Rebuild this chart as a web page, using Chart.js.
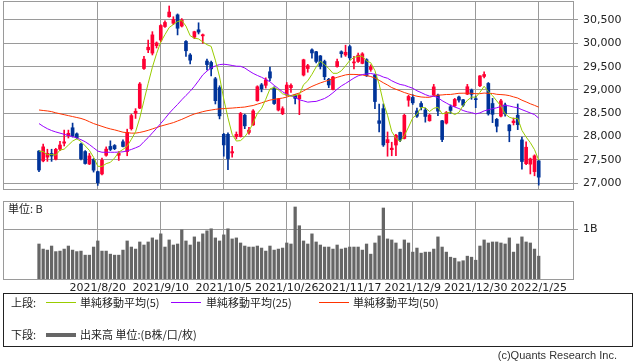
<!DOCTYPE html>
<html>
<head>
<meta charset="utf-8">
<script src="https://cdn.jsdelivr.net/npm/chart.js@4.4.0/dist/chart.umd.min.js"></script>
<style>
  body { margin: 0; background: #fff; }
  #page { position: relative; width: 638px; height: 362px; overflow: hidden; font-family: "Noto Sans CJK JP", sans-serif; color: #222; }
  #priceChart { position: absolute; left: 0; top: 0; }
  #volChart { position: absolute; left: 0; top: 195px; }
  .txt { position: absolute; font-size: 11px; line-height: 13px; white-space: nowrap; }
  #legend { position: absolute; left: 3px; top: 293px; width: 628px; height: 52px; border: 1px solid #222; }
  .swatch { position: absolute; width: 30px; }
</style>
</head>
<body>
<div id="page">
  <canvas id="priceChart" width="638" height="191"></canvas>
  <canvas id="volChart" width="638" height="100"></canvas>
  <div class="txt" style="left:8px; top:202px;">単位: B</div>
  <div id="legend">
    <div class="txt" style="left:7px; top:2px;">上段:</div>
    <div class="swatch" style="left:42px; top:8px; border-top:1px solid #99cc00;"></div>
    <div class="txt" style="left:76px; top:2px;">単純移動平均(5)</div>
    <div class="swatch" style="left:167px; top:8px; border-top:1px solid #9900ff;"></div>
    <div class="txt" style="left:202px; top:2px;">単純移動平均(25)</div>
    <div class="swatch" style="left:315px; top:8px; border-top:1px solid #ff3300;"></div>
    <div class="txt" style="left:349px; top:2px;">単純移動平均(50)</div>
    <div class="txt" style="left:7px; top:34px;">下段:</div>
    <div class="swatch" style="left:42px; top:39px; border-top:4px solid #666;"></div>
    <div class="txt" style="left:76px; top:34px;">出来高 単位:(B株/口/枚)</div>
  </div>
  <div class="txt" style="right:21px; top:349px; font-family:'Liberation Sans', sans-serif; color:#333;">(c)Quants Research Inc.</div>
</div>
<script>
// trading days shown on the chart
const dates = [
  '2021/7/30',
  '2021/8/2', '2021/8/3', '2021/8/4', '2021/8/5', '2021/8/6', '2021/8/10', '2021/8/11', '2021/8/12', '2021/8/13',
  '2021/8/16', '2021/8/17', '2021/8/18', '2021/8/19', '2021/8/20', '2021/8/23', '2021/8/24', '2021/8/25', '2021/8/26',
  '2021/8/27', '2021/8/30', '2021/8/31',
  '2021/9/1', '2021/9/2', '2021/9/3', '2021/9/6', '2021/9/7', '2021/9/8', '2021/9/9', '2021/9/10', '2021/9/13',
  '2021/9/14', '2021/9/15', '2021/9/16', '2021/9/17', '2021/9/21', '2021/9/22', '2021/9/24', '2021/9/27', '2021/9/28',
  '2021/9/29', '2021/9/30',
  '2021/10/1', '2021/10/4', '2021/10/5', '2021/10/6', '2021/10/7', '2021/10/8', '2021/10/11', '2021/10/12', '2021/10/13',
  '2021/10/14', '2021/10/15', '2021/10/18', '2021/10/19', '2021/10/20', '2021/10/21', '2021/10/22', '2021/10/25',
  '2021/10/26', '2021/10/27', '2021/10/28', '2021/10/29',
  '2021/11/1', '2021/11/2', '2021/11/4', '2021/11/5', '2021/11/8', '2021/11/9', '2021/11/10', '2021/11/11', '2021/11/12',
  '2021/11/15', '2021/11/16', '2021/11/17', '2021/11/18', '2021/11/19', '2021/11/22', '2021/11/24', '2021/11/25',
  '2021/11/26', '2021/11/29', '2021/11/30',
  '2021/12/1', '2021/12/2', '2021/12/3', '2021/12/6', '2021/12/7', '2021/12/8', '2021/12/9', '2021/12/10', '2021/12/13',
  '2021/12/14', '2021/12/15', '2021/12/16', '2021/12/17', '2021/12/20', '2021/12/21', '2021/12/22', '2021/12/23',
  '2021/12/24', '2021/12/27', '2021/12/28', '2021/12/29', '2021/12/30',
  '2022/1/4', '2022/1/5', '2022/1/6', '2022/1/7', '2022/1/11', '2022/1/12', '2022/1/13', '2022/1/14', '2022/1/17',
  '2022/1/18', '2022/1/19', '2022/1/20', '2022/1/21', '2022/1/24', '2022/1/25'
]
const tickDays = ['2021/8/20', '2021/9/10', '2021/10/5', '2021/10/26', '2021/11/17', '2021/12/9', '2021/12/30', '2022/1/25']

const open = [
  27690, 27480, 27560, 27640, 27515, 27730, 27860, 28020, 28190, 28060, 27840, 27680, 27414, 27510, 27250, 27200,
  27600, 27790, 27810, 27600, 27890, 27680, 28170, 28500, 28610, 29460, 29860, 29790, 29950, 30070, 30360, 30570,
  30430, 30610, 30370, 30040, 29750, 30130, 30290, 30160, 29620, 29590, 29240, 29050, 28050, 28050, 27650, 28000,
  28000, 28460, 28090, 28250, 28770, 29110, 29100, 29390, 29040, 28570, 28490, 28890, 29050, 28890, 28810, 29320,
  29460, 29860, 29820, 29730, 29610, 29230, 29010, 29500, 29820, 29750, 29930, 29580, 29610, 29570, 29650, 29440,
  29320, 28340, 28600, 27870, 27720, 27820, 28090, 27960, 28780, 28840, 28550, 28710, 28570, 28340, 28890, 28890,
  28340, 28290, 28640, 28660, 28850, 28790, 28910, 29000, 28800, 29090, 29290, 29140, 28710, 28370, 28440, 28680,
  28250, 28300, 28460, 27930, 27420, 27410, 27250, 27480
]
const high = [
  27700, 27840, 27730, 27730, 27750, 27900, 28140, 28140, 28290, 28080, 27860, 27700, 27640, 27530, 27260, 27540,
  27780, 27910, 27830, 27680, 27930, 28160, 28480, 28600, 29160, 29720, 30070, 30250, 30030, 30400, 30480, 30800,
  30570, 30630, 30530, 30060, 29780, 30260, 30440, 30200, 29660, 29620, 29270, 29090, 28070, 28080, 27790, 28100,
  28520, 28480, 28200, 28580, 29090, 29140, 29260, 29490, 29070, 28820, 28640, 29160, 29130, 28900, 28900, 29660,
  29550, 29880, 29830, 29740, 29640, 29250, 29290, 29660, 29840, 29960, 29960, 29720, 29790, 29800, 29670, 29540,
  29340, 28700, 28700, 28100, 27880, 28050, 28100, 28480, 28890, 28900, 28610, 28750, 28610, 28480, 29120, 28910,
  28350, 28540, 28680, 28820, 28870, 28800, 29120, 29020, 28870, 29310, 29390, 29160, 28820, 28390, 28800, 28720,
  28260, 28400, 28700, 27990, 27890, 27540, 27610, 27490
]
const low = [
  27250, 27460, 27470, 27470, 27500, 27700, 27800, 27970, 27990, 27950, 27500, 27410, 27400, 27240, 26954, 27180,
  27580, 27700, 27720, 27490, 27780, 27590, 28140, 28390, 28600, 29440, 29800, 29750, 29900, 30030, 30340, 30560,
  30400, 30180, 30350, 29720, 29560, 30100, 30200, 30000, 29430, 29300, 28700, 28380, 27580, 27290, 27560, 27950,
  27990, 28170, 28050, 28240, 28760, 28960, 29040, 29200, 28690, 28550, 28470, 28880, 28950, 28700, 28470, 29300,
  29380, 29680, 29580, 29450, 29220, 29050, 29000, 29490, 29700, 29720, 29640, 29450, 29590, 29560, 29290, 29400,
  28600, 28100, 27790, 27580, 27590, 27590, 27890, 27950, 28650, 28690, 28410, 28570, 28310, 28330, 28880, 28450,
  27890, 28270, 28500, 28640, 28740, 28650, 28900, 28800, 28620, 29070, 29260, 28460, 28300, 28100, 28420, 28440,
  27890, 28250, 28150, 27300, 27400, 27200, 27160, 26960
]
const close = [
  27284, 27781, 27642, 27584, 27728, 27820, 27888, 28071, 28015, 27977, 27523, 27424, 27586, 27281, 27013, 27494,
  27732, 27725, 27742, 27641, 27789, 28090, 28451, 28544, 29128, 29660, 29916, 30181, 30008, 30382, 30447, 30670,
  30512, 30323, 30500, 29840, 29639, 30249, 30240, 30184, 29544, 29453, 28771, 28445, 27822, 27529, 27678, 28049,
  28498, 28231, 28140, 28551, 29069, 29025, 29216, 29256, 28709, 28805, 28600, 29106, 29098, 28820, 28893, 29647,
  29521, 29794, 29612, 29507, 29285, 29107, 29278, 29610, 29777, 29808, 29688, 29599, 29746, 29774, 29303, 29499,
  28752, 28284, 27822, 27936, 27753, 28030, 27927, 28456, 28861, 28725, 28438, 28640, 28433, 28460, 29066, 28546,
  27938, 28518, 28562, 28798, 28783, 28676, 29069, 28907, 28792, 29302, 29332, 28488, 28479, 28222, 28766, 28489,
  28124, 28334, 28257, 27467, 27773, 27522, 27588, 27131
]
// volume, billions of shares
const volume = [
  0.71, 0.61, 0.59, 0.67, 0.56, 0.57, 0.61, 0.67, 0.59, 0.56, 0.57, 0.49, 0.49, 0.65, 0.77, 0.57,
  0.57, 0.51, 0.49, 0.49, 0.59, 0.77, 0.65, 0.61, 0.75, 0.69, 0.75, 0.83, 0.79, 0.91, 0.65, 0.79,
  0.69, 0.71, 0.99, 0.77, 0.69, 0.85, 0.75, 0.91, 0.97, 1.01, 0.83, 0.77, 0.89, 1.01, 0.81, 0.83,
  0.73, 0.67, 0.65, 0.65, 0.67, 0.63, 0.57, 0.67, 0.59, 0.61, 0.63, 0.73, 0.71, 1.44, 1.07, 0.77,
  0.71, 0.91, 0.75, 0.69, 0.65, 0.65, 0.61, 0.69, 0.61, 0.63, 0.65, 0.65, 0.65, 0.59, 0.71, 0.51,
  0.73, 0.87, 1.42, 0.81, 0.79, 0.73, 0.61, 0.79, 0.73, 0.55, 0.63, 0.53, 0.55, 0.55, 0.61, 0.85,
  0.65, 0.55, 0.45, 0.43, 0.36, 0.38, 0.47, 0.45, 0.39, 0.67, 0.79, 0.73, 0.75, 0.75, 0.73, 0.71,
  0.83, 0.55, 0.71, 0.85, 0.75, 0.73, 0.61, 0.47
]
const ma5 = [
  27690, 27680, 27614, 27615, 27604, 27711, 27732, 27818, 27904, 27954, 27895, 27802, 27705, 27558, 27365, 27360,
  27421, 27449, 27541, 27667, 27726, 27797, 27943, 28103, 28400, 28775, 29140, 29486, 29779, 30029, 30187, 30338,
  30404, 30467, 30490, 30369, 30163, 30110, 30094, 30030, 29971, 29934, 29638, 29279, 28807, 28404, 28049, 27905,
  27915, 27997, 28119, 28294, 28498, 28603, 28800, 29023, 29055, 29002, 28917, 28895, 28864, 28886, 28903, 29113,
  29196, 29335, 29493, 29616, 29544, 29461, 29358, 29357, 29411, 29516, 29632, 29696, 29724, 29723, 29622, 29584,
  29415, 29122, 28732, 28459, 28109, 27965, 27894, 28020, 28205, 28400, 28481, 28624, 28619, 28539, 28607, 28629,
  28489, 28506, 28526, 28472, 28520, 28667, 28778, 28847, 28845, 28949, 29080, 28964, 28879, 28765, 28657, 28489,
  28416, 28387, 28394, 28134, 27991, 27871, 27721, 27496
]
const ma25 = [
  28280, 28220, 28170, 28130, 28100, 28075, 28050, 28025, 28000, 27970, 27935, 27890, 27830, 27760, 27690, 27665,
  27665, 27665, 27665, 27668, 27675, 27695, 27725, 27760, 27798, 27893, 27979, 28080, 28177, 28283, 28388, 28500,
  28597, 28690, 28790, 28883, 28972, 29078, 29197, 29323, 29405, 29474, 29516, 29544, 29552, 29541, 29525, 29509,
  29507, 29471, 29410, 29355, 29311, 29272, 29225, 29177, 29099, 29031, 28962, 28906, 28876, 28844, 28789, 28766,
  28739, 28749, 28755, 28785, 28818, 28870, 28940, 29017, 29086, 29139, 29197, 29255, 29303, 29331, 29342, 29354,
  29334, 29317, 29277, 29251, 29197, 29154, 29118, 29101, 29069, 29037, 28983, 28944, 28901, 28868, 28867, 28837,
  28770, 28720, 28670, 28635, 28602, 28559, 28531, 28515, 28487, 28509, 28551, 28577, 28599, 28618, 28647, 28670,
  28657, 28635, 28617, 28578, 28543, 28507, 28472, 28395
]
const ma50 = [
  28571, 28560, 28550, 28536, 28510, 28490, 28470, 28450, 28430, 28410, 28390, 28360, 28320, 28280, 28250, 28220,
  28190, 28165, 28145, 28120, 28095, 28085, 28075, 28075, 28090, 28110, 28135, 28165, 28195, 28225, 28250, 28275,
  28300, 28335, 28370, 28410, 28450, 28485, 28510, 28535, 28555, 28570, 28585, 28595, 28600, 28607, 28612, 28620,
  28627, 28634, 28652, 28667, 28696, 28724, 28754, 28783, 28799, 28814, 28826, 28848, 28880, 28908, 28934, 28981,
  29031, 29077, 29115, 29151, 29181, 29211, 29240, 29271, 29297, 29323, 29334, 29333, 29329, 29321, 29307, 29289,
  29255, 29208, 29154, 29106, 29051, 29015, 28981, 28945, 28917, 28888, 28866, 28850, 28843, 28843, 28868, 28889,
  28894, 28903, 28904, 28916, 28929, 28931, 28931, 28929, 28920, 28921, 28934, 28927, 28925, 28907, 28901, 28894,
  28879, 28852, 28827, 28781, 28744, 28704, 28670, 28631
]
const priceTicks = [27000, 27500, 28000, 28500, 29000, 29500, 30000, 30500]
const volTicks = [1]

const RED = '#ff0033'
const BLUE = '#003399'
const GRID = '#9a9a9a'
const tickIdx = tickDays.map(d => dates.indexOf(d))
const candleColor = (ctx) => close[ctx.dataIndex] >= open[ctx.dataIndex] ? RED : BLUE

// thin gray frame round the plot area
const frame = {
  id: 'frame',
  afterDraw(chart) {
    const {ctx, chartArea: a} = chart
    ctx.save()
    ctx.strokeStyle = GRID
    ctx.lineWidth = 1
    ctx.strokeRect(a.left + 0.5, a.top + 0.5, a.right - a.left - 1, a.bottom - a.top - 1)
    ctx.restore()
  }
}

function xAxis(showLabels) {
  return {
    type: 'linear',
    min: -8.57,
    max: 127.4,
    offset: false,
    afterBuildTicks: s => { s.ticks = tickIdx.map(v => ({value: v})) },
    afterFit: s => { s.height = showLabels ? 15 : 0; s.paddingLeft = 0; s.paddingRight = 0 },
    grid: {color: GRID, drawTicks: false, offset: false},
    border: {display: false},
    ticks: {
      display: showLabels,
      autoSkip: false,
      maxRotation: 0,
      padding: 2,
      color: '#222',
      font: {family: 'DejaVu Sans', size: 11},
      callback: v => dates[v]
    }
  }
}

function yAxis(min, max, tickValues, fmt) {
  return {
    position: 'right',
    min: min,
    max: max,
    afterBuildTicks: s => { s.ticks = tickValues.map(v => ({value: v})) },
    afterFit: s => { s.width = 64; s.paddingTop = 0; s.paddingBottom = 0 },
    grid: {color: GRID, tickLength: 4},
    border: {display: false},
    ticks: {padding: 5, color: '#222', font: {family: 'DejaVu Sans', size: 11}, callback: fmt}
  }
}

const common = {
  responsive: false,
  animation: false,
  events: [],
  plugins: {legend: {display: false}, tooltip: {enabled: false}}
}

const maLine = (values, color) => ({
  type: 'line',
  data: values.map((v, i) => ({x: i, y: v})),
  borderColor: color,
  borderWidth: 1,
  pointRadius: 0,
  tension: 0,
  order: 0
})

new Chart(document.getElementById('priceChart'), {
  type: 'bar',
  data: {
    datasets: [
      maLine(ma5, '#99cc00'),
      maLine(ma25, '#9900ff'),
      maLine(ma50, '#ff3300'),
      {
        type: 'bar',
        data: open.map((o, i) => ({x: i, y: [Math.min(o, close[i]), Math.max(o, close[i])]})),
        backgroundColor: candleColor,
        barThickness: 3,
        minBarLength: 1,
        grouped: false,
        order: 1
      },
      {
        type: 'bar',
        data: low.map((l, i) => ({x: i, y: [l, high[i]]})),
        backgroundColor: candleColor,
        barThickness: 1,
        grouped: false,
        order: 2
      }
    ]
  },
  options: {
    ...common,
    layout: {padding: {left: 3, top: 1, bottom: 1, right: 0}},
    scales: {
      x: xAxis(false),
      y: yAxis(26856, 30907, priceTicks, v => v.toLocaleString('en-US'))
    }
  },
  plugins: [frame]
})

new Chart(document.getElementById('volChart'), {
  type: 'bar',
  data: {
    datasets: [{
      data: volume.map((v, i) => ({x: i, y: v})),
      backgroundColor: '#666666',
      barThickness: 2.6,
      grouped: false
    }]
  },
  options: {
    ...common,
    layout: {padding: {left: 3, top: 6, bottom: 0, right: 0}},
    scales: {
      x: xAxis(true),
      y: yAxis(0, 1.558, volTicks, v => v + 'B')
    }
  },
  plugins: [frame]
})
</script>
</body>
</html>
